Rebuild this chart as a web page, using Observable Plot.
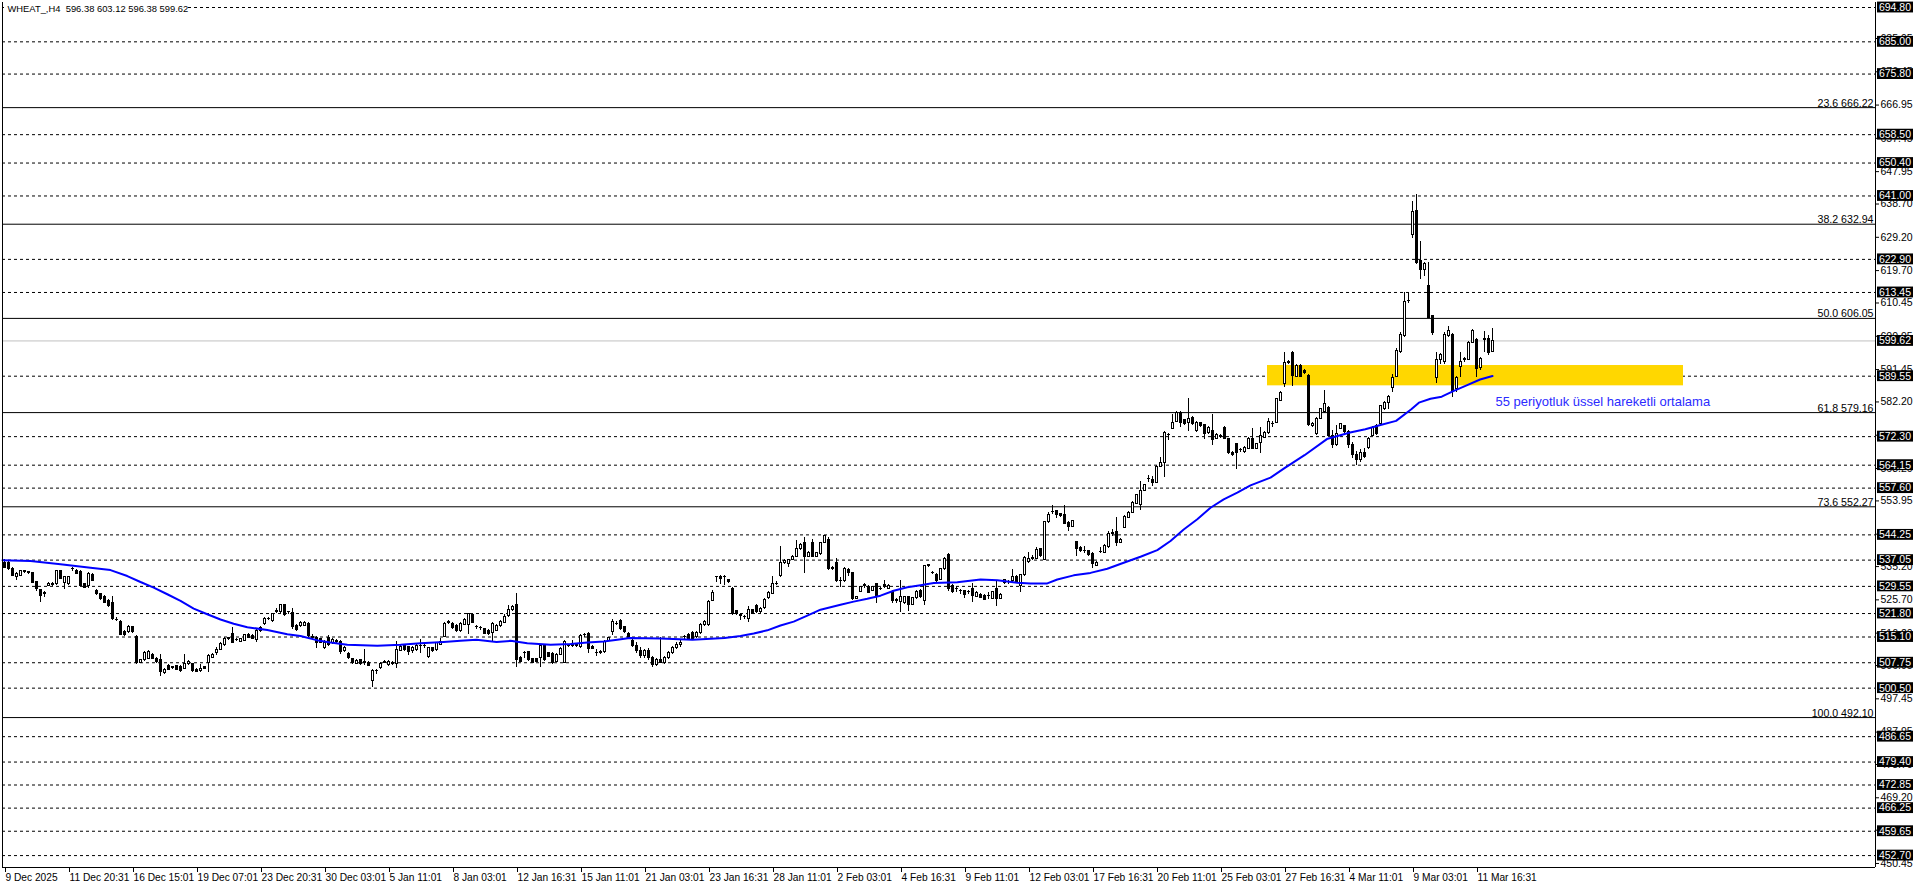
<!DOCTYPE html>
<html><head><meta charset="utf-8">
<script src="https://cdn.jsdelivr.net/npm/d3@7"></script>
<script src="https://cdn.jsdelivr.net/npm/@observablehq/plot@0.6"></script>
<style>
html,body{margin:0;padding:0;background:#fff;}
#chart{width:1916px;height:888px;}
</style>
</head><body><div id="chart"></div>
<script>
// ---------- DATA ----------
const title = "WHEAT_,H4\u00a0 596.38 603.12 596.38 599.62";
const emaNote = "55 periyotluk üssel hareketli ortalama";

// H4 candles, bar index 0..372
const open = [
536.3,536.3,534.4,532.1,532.5,533.7,533.5,533.3,530.8,528.4,
527.3,529.7,530.3,530.1,534.0,530.6,530.1,534.4,534.0,533.7,
530.1,529.7,532.8,528.2,527.3,526.5,525.4,524.7,519.9,519.4,
516.5,516.5,517.9,515.2,507.8,508.5,508.9,510.1,508.9,508.4,
504.7,506.8,506.3,506.8,506.5,506.0,507.3,507.3,505.8,505.3,
506.4,507.8,509.1,510.6,511.4,512.7,514.6,516.0,514.2,513.8,
514.1,515.8,515.4,514.2,516.8,518.7,520.2,519.6,522.1,522.1,
524.1,522.1,521.9,518.2,518.2,518.3,518.9,515.2,514.9,514.4,
511.9,514.8,513.3,513.8,513.8,511.0,510.3,508.8,507.4,508.4,
507.8,507.8,502.4,505.3,506.2,507.8,507.1,507.8,507.4,511.2,
512.4,512.2,511.0,511.4,512.4,512.4,509.4,511.9,511.4,512.9,
515.2,519.2,518.8,518.3,516.7,518.6,518.6,521.4,517.9,517.6,
517.3,516.9,516.2,516.9,518.3,519.2,521.1,522.7,524.3,509.1,
510.5,510.7,508.8,508.8,509.1,512.4,510.5,510.3,508.1,510.0,
507.6,512.4,512.8,512.6,512.2,515.6,516.0,512.2,510.5,510.6,
510.7,514.0,516.4,518.8,519.7,517.9,516.0,514.0,512.5,511.0,
509.8,511.0,509.0,507.2,508.5,507.8,509.2,510.5,512.0,512.8,
515.1,515.6,516.1,515.1,516.1,518.4,518.4,525.5,532.1,532.3,
532.1,531.3,528.8,522.4,521.2,520.8,520.3,522.7,523.9,522.2,
523.3,526.1,527.4,530.2,532.4,536.1,535.9,537.1,538.0,540.1,
541.8,538.0,541.8,538.0,538.7,542.0,542.9,534.9,536.3,531.1,
531.1,534.3,533.3,526.0,528.0,529.7,529.5,528.3,530.2,528.8,
529.9,528.9,528.0,525.5,525.0,524.8,526.4,524.3,526.1,528.3,
525.5,535.4,533.3,532.8,531.4,534.4,538.4,529.8,528.7,528.2,
528.2,527.9,528.8,526.6,527.2,526.9,526.8,526.0,528.7,526.0,
530.4,530.8,531.0,532.3,529.8,532.7,536.5,537.4,537.4,540.1,
537.2,547.9,550.7,551.0,550.1,549.8,547.7,546.6,542.2,540.6,
539.6,539.6,538.9,535.5,539.3,539.1,540.8,544.6,545.0,542.0,
546.3,549.1,550.6,553.2,552.9,556.8,560.1,559.9,559.1,563.7,
564.7,572.7,574.6,576.5,579.1,577.0,576.3,577.7,573.9,576.1,
575.5,573.2,573.9,571.7,572.3,574.8,571.5,567.7,570.1,568.5,
567.9,568.8,571.7,568.8,570.6,572.0,573.2,575.9,576.3,582.5,
587.2,593.4,596.2,589.4,592.4,591.0,589.6,575.4,573.0,577.4,
579.2,580.6,572.5,570.0,574.6,575.2,573.5,570.0,567.0,565.5,
567.5,569.0,572.5,575.4,575.8,580.1,582.0,586.3,589.4,596.4,
601.0,610.9,629.9,636.8,622.3,619.8,615.4,606.7,589.1,594.3,
593.6,601.0,601.4,585.8,592.2,594.3,594.3,599.1,600.0,592.0,
600.0,600.2,596.38];
const high = [
537.1,536.8,534.9,533.5,534.2,534.2,533.9,533.6,531.0,528.7,
528.0,530.6,530.6,534.2,534.2,532.4,532.5,534.9,534.4,534.0,
530.4,533.5,533.3,528.7,527.6,526.9,525.8,526.8,520.6,519.8,
517.0,518.4,518.2,515.4,508.6,510.9,511.2,510.5,509.2,510.0,
506.2,507.2,506.8,507.0,506.9,510.0,508.4,507.6,506.1,507.3,
506.8,510.0,510.3,512.0,513.5,515.0,515.0,517.7,514.6,514.8,
515.9,516.2,515.7,517.1,518.2,520.6,520.6,521.9,523.2,524.5,
524.5,522.5,523.2,518.6,519.5,519.6,519.2,515.8,515.2,514.8,
514.0,515.5,514.7,514.3,514.2,512.5,510.6,509.1,508.6,508.7,
511.4,508.1,505.7,505.9,507.8,508.3,508.5,508.1,513.8,512.6,
512.8,512.5,512.5,513.0,514.3,512.9,512.2,512.2,513.6,514.8,
519.2,519.8,519.2,518.6,519.2,520.4,521.9,521.7,518.4,518.1,
517.6,517.2,519.1,518.6,519.9,521.4,524.0,524.0,527.4,509.5,
511.0,511.0,509.1,509.1,513.1,512.7,510.8,510.6,510.4,512.0,
514.0,513.0,514.0,513.2,515.7,516.1,516.4,512.6,511.4,511.2,
514.1,515.1,520.2,519.4,520.0,518.2,516.3,514.5,513.5,512.0,
511.5,511.8,509.5,509.0,515.0,509.5,511.0,512.5,513.5,514.0,
515.6,516.0,516.7,516.6,519.0,519.8,525.6,528.5,532.5,532.7,
532.7,531.6,529.2,522.7,521.7,521.2,523.9,523.0,524.4,523.5,
526.1,528.0,532.4,530.9,540.9,537.1,537.3,538.4,542.7,541.8,
543.4,539.5,542.9,539.3,542.1,544.1,543.4,535.2,537.5,532.1,
534.8,534.6,533.6,526.8,529.6,530.4,529.8,529.6,530.5,529.2,
531.1,530.0,528.3,526.2,531.3,526.7,526.7,526.4,528.3,528.6,
535.6,535.8,533.9,533.1,534.7,537.7,538.9,530.1,529.4,528.8,
528.5,528.4,530.4,528.0,527.5,527.2,527.7,528.2,531.0,527.5,
531.6,531.3,534.4,532.6,533.0,538.0,539.1,538.4,540.6,540.4,
548.2,550.6,552.5,551.3,550.4,552.5,548.0,548.5,542.5,540.9,
541.0,539.9,539.2,536.6,540.6,541.5,545.3,545.8,549.1,543.2,
549.7,550.9,553.7,555.8,559.6,558.7,561.2,561.0,564.0,566.3,
573.7,573.2,578.7,579.4,579.4,577.3,583.1,578.0,576.6,576.4,
575.8,575.2,578.7,573.2,572.9,575.1,571.8,568.0,570.4,569.0,
569.4,572.0,574.6,570.4,575.0,573.7,577.4,576.5,583.3,585.2,
596.2,594.0,596.5,593.0,592.8,591.5,590.0,576.2,577.7,580.4,
585.6,581.0,574.0,575.5,576.1,575.6,574.0,570.5,568.0,568.5,
569.0,572.0,575.2,575.8,581.3,582.3,584.0,590.0,597.5,602.0,
613.5,613.5,639.4,641.3,628.0,622.0,622.0,607.0,596.4,596.0,
602.0,603.8,601.8,589.5,596.4,595.0,599.5,603.0,600.4,594.8,
602.4,601.3,603.12];
const low = [
534.6,534.2,532.3,531.1,532.3,533.2,532.9,530.4,528.2,524.9,
526.3,529.4,529.5,529.9,531.5,528.7,529.9,533.7,532.8,529.4,
528.9,528.9,530.9,527.0,525.6,524.6,523.6,519.9,519.4,515.5,
515.3,516.2,516.2,507.2,507.5,508.2,508.7,508.6,507.6,503.8,
504.5,505.5,505.7,505.5,505.1,505.8,507.0,505.1,504.9,505.0,
505.7,505.1,508.9,509.7,511.2,512.4,514.2,513.2,513.7,513.5,
513.8,514.6,514.3,513.5,516.5,518.4,519.8,519.2,521.8,521.9,
521.0,521.6,517.3,516.8,517.9,518.0,515.1,514.5,511.8,513.2,
511.6,512.5,512.9,513.2,510.2,510.7,508.8,507.3,507.2,507.1,
507.1,506.6,500.8,504.3,505.9,507.4,506.8,507.0,506.2,510.9,
511.1,509.8,510.5,511.1,510.5,511.9,508.9,510.7,511.1,512.6,
514.9,518.7,517.3,516.3,516.4,518.3,515.7,518.9,517.3,516.9,
515.7,515.6,513.5,516.6,517.9,518.9,520.8,522.3,506.5,507.8,
509.1,508.1,507.5,507.7,506.5,508.0,509.2,507.3,507.8,509.7,
507.4,512.0,512.2,512.0,511.9,515.0,510.5,511.5,509.5,510.0,
510.4,513.7,515.4,518.4,517.0,516.0,514.3,512.0,510.5,509.0,
509.0,508.5,506.5,506.8,507.5,507.2,508.8,510.0,511.5,512.0,
514.4,514.2,514.2,514.8,515.8,518.1,518.1,525.2,530.7,530.2,
529.7,530.4,521.3,521.3,519.8,520.2,519.2,521.4,521.9,521.8,
523.0,525.8,527.1,529.7,532.1,535.8,534.9,536.8,537.7,539.8,
533.3,537.7,537.7,537.7,538.4,541.7,534.2,534.1,530.8,529.2,
530.8,532.5,525.6,525.7,527.7,529.0,527.5,528.0,524.8,528.3,
529.0,528.6,524.8,524.8,522.0,524.5,522.4,524.0,525.8,526.1,
524.1,534.9,532.8,530.8,531.1,534.1,528.2,527.6,527.7,527.2,
526.0,527.3,525.0,526.3,526.0,525.5,525.8,525.7,523.9,525.7,
530.1,530.2,530.7,530.5,527.7,532.4,536.2,537.0,537.1,537.9,
536.9,547.6,550.1,548.8,549.3,547.2,545.3,546.3,538.0,539.3,
538.9,538.1,534.6,535.2,538.9,538.8,540.5,543.9,541.0,541.7,
546.0,548.8,550.3,552.9,551.3,556.5,559.3,558.0,558.8,563.4,
560.6,571.3,574.3,576.2,574.9,575.5,573.9,575.5,573.6,575.0,
571.5,572.9,569.8,571.4,571.8,571.4,567.2,566.7,562.9,567.9,
567.6,568.5,568.5,568.5,567.5,571.7,572.9,575.0,576.0,582.2,
586.3,592.8,586.6,589.1,589.1,590.0,575.3,575.0,572.5,577.1,
578.9,572.2,569.0,569.5,574.3,573.2,569.0,566.0,564.0,565.0,
566.0,568.5,572.2,572.7,575.5,579.8,580.0,585.0,589.1,596.1,
600.7,610.2,629.0,621.5,617.1,618.1,606.0,601.3,587.5,593.0,
593.0,600.7,583.4,585.0,589.1,593.5,594.0,598.8,589.1,591.2,
596.2,595.5,596.38];
const close = [
534.9,534.4,532.5,533.0,534.0,533.6,533.4,530.6,528.7,526.8,
527.8,530.1,529.9,534.0,531.8,532.1,532.1,534.5,533.0,529.7,
529.2,533.0,531.1,527.3,525.9,524.9,524.0,520.1,519.8,515.8,
515.8,518.0,516.5,507.8,508.4,510.6,510.8,508.9,507.9,505.1,
505.8,505.8,506.2,505.8,505.4,507.3,507.9,505.4,505.2,506.0,
506.0,509.7,510.0,511.4,513.2,514.6,514.7,513.5,514.1,514.5,
515.6,514.9,514.6,516.8,517.7,520.3,520.1,521.6,522.5,524.1,
521.3,522.0,518.0,517.1,519.2,519.2,515.4,514.9,513.5,513.5,
513.5,512.9,514.3,513.7,510.7,512.1,509.1,507.6,508.3,507.4,
507.7,506.9,505.3,505.4,507.4,507.9,508.1,507.4,511.4,512.2,
511.4,510.7,512.1,512.4,512.5,512.3,511.9,511.0,513.3,513.8,
518.8,519.3,517.6,516.7,518.8,520.0,521.6,519.2,517.8,517.5,
516.0,516.0,518.8,518.3,519.3,520.9,522.7,523.6,508.4,508.1,
510.6,508.4,507.8,508.1,512.4,508.4,509.5,507.6,510.0,511.6,
513.8,512.5,512.4,512.7,515.4,515.7,511.6,511.6,510.4,510.7,
513.8,514.9,519.5,518.9,517.3,516.4,514.5,512.5,511.0,509.8,
511.0,509.0,507.2,508.5,507.8,509.2,510.5,512.0,512.8,513.5,
515.0,514.6,514.6,516.2,518.6,519.4,525.2,527.7,532.0,531.6,
532.0,530.7,521.7,521.7,521.1,520.7,522.7,521.7,522.2,523.1,
525.8,527.7,530.2,530.3,536.3,536.8,537.0,538.0,540.3,541.5,
537.8,539.2,538.0,539.0,541.8,543.9,534.6,534.4,531.1,531.2,
534.4,533.5,526.0,526.4,529.3,529.8,527.8,529.3,526.9,528.7,
529.3,529.7,525.5,525.6,526.4,526.4,524.1,526.1,528.0,526.4,
535.4,535.3,533.4,531.1,534.4,537.4,528.7,527.9,528.6,528.1,
527.2,527.8,526.7,527.7,526.3,525.8,526.7,527.9,526.0,527.2,
531.3,530.7,532.3,530.8,532.7,537.7,537.4,537.5,539.9,538.2,
547.9,549.8,550.8,549.8,549.6,547.5,546.6,548.2,540.3,539.6,
539.7,538.4,535.8,536.3,539.4,541.2,544.6,544.7,542.0,542.9,
549.4,550.6,553.4,555.5,556.8,558.4,560.2,559.0,563.7,564.7,
573.4,572.6,576.3,579.1,576.3,575.8,577.2,575.8,576.3,575.3,
573.0,574.9,571.3,572.9,572.4,571.7,567.5,567.0,567.5,568.4,
569.1,571.7,568.8,570.1,572.5,573.4,576.5,575.8,583.0,584.8,
593.4,593.5,589.6,592.6,589.4,590.5,575.6,575.8,577.4,580.1,
581.5,572.5,570.0,573.0,575.8,573.5,570.0,567.0,565.5,567.5,
566.5,571.5,574.9,573.0,581.0,582.0,583.5,589.1,596.7,601.4,
610.6,611.0,636.5,622.0,619.9,621.6,606.2,601.9,594.3,595.6,
601.4,602.4,585.3,589.1,593.6,594.4,599.1,602.4,591.7,594.5,
600.1,596.2,599.62];

// 55-period EMA, read at sample bars
const emaBar = [
-0.5,6.5,14,21.5,26.5,30.7,34,37.3,40.7,44,
47.3,50.7,54,57.3,60.7,65.7,70.7,74,78.8,81.5,
85.7,93.2,99,104,109.8,114,118,123,126.5,130.7,
136.5,141.5,145.7,149.8,153.2,156.3,164,172,180,184,
187.3,190.7,194,197.3,200.7,204,209,212.3,215.7,219,
222.3,225.7,229,232.3,238.2,244,248.2,253.2,256.5,260.7,
263.2,267.3,271.5,275.7,279.8,284,288.2,291.5,294.8,298.2,
301.5,304.8,308.2,311.5,316.5,320,325,330.6,336.4,340.2,
344,347.9,351.7,353.6,356.5,359.3,362.2,365.1,368.9,372];
const emaValue = [
537.0,536.8,535.9,534.9,534.2,532.5,530.8,529.2,527.3,525.4,
523.2,521.6,520.1,518.9,517.9,517.1,515.9,515.4,514.0,513.5,
512.9,512.6,512.9,513.3,513.7,514.0,514.3,513.7,514.0,513.3,
512.9,513.1,513.5,513.8,514.3,514.8,514.7,514.3,514.8,515.4,
516.1,517.0,518.4,519.5,521.2,522.9,524.3,525.2,526.0,526.9,
528.3,529.3,529.9,530.5,530.7,531.5,531.3,530.6,530.4,530.4,
531.5,532.7,533.4,534.6,536.3,538.0,539.9,542.5,545.8,548.7,
552.0,554.4,556.3,558.4,560.6,563.3,567.0,571.6,573.5,574.4,
575.6,576.8,580.1,582.0,583.1,583.7,585.3,586.7,588.6,589.6];

// time axis
const xTickBars = [0,16,32,48,64,80,96,112,128,144,160,176,192,208,224,240,256,272,288,304,320,336,352,368];
const xTickLabels = ["9 Dec 2025","11 Dec 20:31","16 Dec 15:01","19 Dec 07:01","23 Dec 20:31","30 Dec 03:01",
  "5 Jan 11:01","8 Jan 03:01","12 Jan 16:31","15 Jan 11:01","21 Jan 03:01","23 Jan 16:31","28 Jan 11:01",
  "2 Feb 03:01","4 Feb 16:31","9 Feb 11:01","12 Feb 03:01","17 Feb 16:31","20 Feb 11:01","25 Feb 03:01",
  "27 Feb 16:31","4 Mar 11:01","9 Mar 03:01","11 Mar 16:31"];

// price axis
const yTickValues = [685.95,676.45,666.95,657.45,647.95,638.70,629.20,619.70,610.45,600.95,591.45,582.20,
  572.70,563.20,553.95,544.45,535.20,525.70,516.20,506.95,497.45,487.95,478.70,469.20,459.95,450.45];
const levelValues = [694.80,685.00,675.80,658.50,650.40,641.00,622.90,613.45,589.55,572.30,564.15,557.60,
  544.25,537.05,529.55,521.80,515.10,507.75,500.50,486.65,479.40,472.85,466.25,459.65,452.70];
const fibValues = [666.22,632.94,606.05,579.16,552.27,492.10];
const fibLabels = ["23.6 666.22","38.2 632.94","50.0 606.05","61.8 579.16","73.6 552.27","100.0 492.10"];
const lastPrice = 599.62;
const zoneBars = [315.75, 419.75];
const zonePrices = [586.8, 592.6];

// ---------- CHART ----------
const bars = open.map((o, i) => ({i, o, h: high[i], l: low[i], c: close[i]}));
const X0 = -0.5, X1 = 467.75;
const boxed = levelValues.concat([lastPrice]);

const chart = Plot.plot({
  width: 1916, height: 888,
  marginLeft: 2, marginRight: 41, marginTop: 2, marginBottom: 21,
  x: {type: "linear", domain: [X0, X1], axis: null},
  y: {type: "linear", domain: [449.3, 696.23], axis: null},
  style: {fontFamily: "'Liberation Sans', Arial, sans-serif", fontSize: "10px", background: "#fff", color: "#000", overflow: "visible"},
  marks: [
    // dashed support / resistance levels
    Plot.ruleY(levelValues, {stroke: "#000", strokeWidth: 1, strokeDasharray: "3,3"}),
    // Fibonacci levels
    Plot.ruleY(fibValues, {stroke: "#000", strokeWidth: 1}),
    Plot.text(fibValues, {x: () => X1, y: d => d, text: (d, i) => fibLabels[i], textAnchor: "end", lineAnchor: "bottom", dx: -2, dy: -1, fill: "#000", fontSize: 10.6}),
    // bid line
    Plot.ruleY([lastPrice], {stroke: "#c0c0c0", strokeWidth: 1}),
    // yellow zone
    Plot.rect([0], {x1: () => zoneBars[0], x2: () => zoneBars[1], y1: () => zonePrices[0], y2: () => zonePrices[1], fill: "#ffd700"}),
    // candles
    Plot.ruleX(bars, {x: "i", y1: "l", y2: "h", stroke: "#000", strokeWidth: 1, shapeRendering: "crispEdges"}),
    Plot.rect(bars, {x1: d => d.i - 0.25, x2: d => d.i + 0.25, y1: "o",
      y2: d => Math.abs(d.c - d.o) < 0.12 ? d.o + 0.12 : d.c,
      fill: d => d.c >= d.o ? "#fff" : "#000", stroke: "#000", strokeWidth: 1, shapeRendering: "crispEdges"}),
    // EMA
    Plot.line(emaBar.map((b, k) => ({b, v: emaValue[k]})), {x: "b", y: "v", stroke: "#0000ff", strokeWidth: 2}),
    Plot.text([emaNote], {x: () => 372.75, y: () => 582.1, text: d => d, textAnchor: "start", fill: "#2b2bff", fontSize: 13}),
    // frame (left, right, bottom)
    Plot.ruleX([X0, X1], {stroke: "#000", strokeWidth: 1}),
    Plot.ruleY([449.3], {stroke: "#000", strokeWidth: 1}),
    // axes
    Plot.axisX(xTickBars, {anchor: "bottom", tickSize: 5, tickPadding: 1, textAnchor: "start", dx: 1,
      tickFormat: d => xTickLabels[xTickBars.indexOf(d)], fontSize: 10.2, fill: "#000", stroke: "#000"}),
    Plot.axisY(yTickValues, {anchor: "right", tickSize: 3, tickPadding: 2, tickFormat: d => d.toFixed(2), fontSize: 10.5, fill: "#000", stroke: "#000"}),
    // highlighted price labels
    Plot.rect(boxed, {x1: () => 468.25, x2: () => 477.25, y1: d => d - 1.55, y2: d => d + 1.55, fill: "#000"}),
    Plot.text(boxed, {x: () => 468.6, y: d => d, text: d => d.toFixed(2), textAnchor: "start", fill: "#fff", fontSize: 10.5}),
    // title
    Plot.rect([0], {x1: () => 0, x2: () => 45.5, y1: () => 693.2, y2: () => 696.2, fill: "#fff"}),
    Plot.text([title], {frameAnchor: "top-left", dx: 5, dy: 3, lineAnchor: "top", text: d => d, textAnchor: "start", fill: "#000", fontSize: 9.4})
  ]
});
document.getElementById("chart").appendChild(chart);
</script>
</body></html>
